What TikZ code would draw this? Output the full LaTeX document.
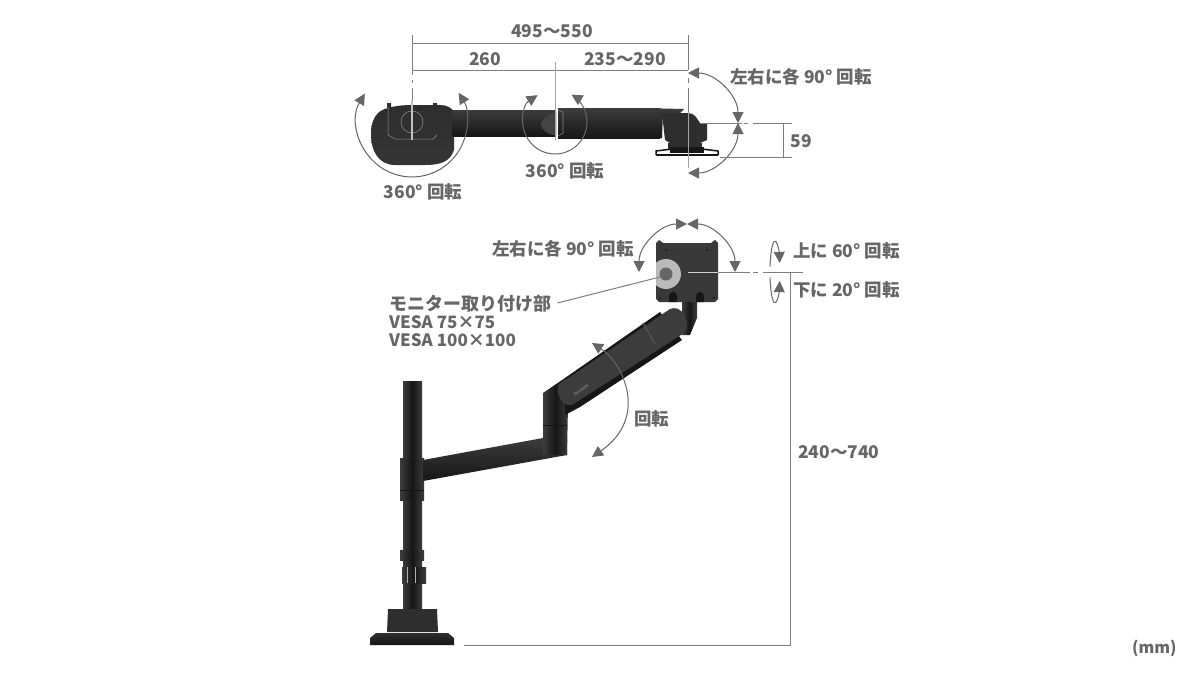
\documentclass[tikz,border=0pt]{standalone}
\usepackage{fontspec}
\setmainfont{Noto Sans CJK JP}
\usetikzlibrary{arrows.meta}
\definecolor{lblgray}{HTML}{666666}
\definecolor{armdark}{HTML}{2E2E2E}
\definecolor{armblack}{HTML}{161616}
\definecolor{armlight}{HTML}{3C3C3C}
\tikzset{
  lbl/.style={text=lblgray,font=\fontsize{17.5}{18}\selectfont\bfseries,inner sep=0pt},
  lblleft/.style={lbl,anchor=west,align=left},
  lblvesa/.style={lblleft,font=\fontsize{17}{18}\selectfont\bfseries},
  dimline/.style={draw=lblgray!85,line width=1pt},
  rotarc/.style={draw=lblgray,line width=1pt},
  rothead/.style={{Triangle[length=11pt,width=11pt]}-{Triangle[length=11pt,width=11pt]}},
  endhead/.style={-{Triangle[length=11pt,width=11pt]}},
  cyl/.style={left color=armlight,right color=armlight,middle color=armblack,draw=none},
  bar/.style={top color=armlight,bottom color=armblack,draw=none},
  solid dark/.style={fill=armdark,draw=none}
}
\begin{document}
\begin{tikzpicture}[x=1pt,y=-1pt]
  \useasboundingbox (0,0) rectangle (1200,675);
  \fill[white] (0,0) rectangle (1200,675);

  % top view of the arm
  \path[bottom color=armlight!80!armblack,top color=armdark] (378,113) .. controls (384,107) and (400,105) .. (412,105)
     -- (440,105) .. controls (447,105) and (452,108) .. (454,112) -- (454,150)
     .. controls (450,162) and (440,165) .. (425,165) -- (395,165)
     .. controls (378,165) and (371,150) .. (371,135) .. controls (371,125) and (373,118) .. (378,113) -- cycle;
  \fill[armdark] (387,103) rectangle (391,108) (433,103) rectangle (437,108);
  \path[bar] (452,110) rectangle (556,136);
  \path[bar] (558,108) rectangle (660,138);
  \path[bar] (640,108) -- (684,109) -- (680,113) -- (663,113) -- (662,138) -- (640,138) -- cycle;
  \path[solid dark] (662,113) -- (688,113) .. controls (695,113) and (697,119) .. (700,123)
     -- (707,123) -- (707,140) -- (700,143) -- (670,143) -- (665,140) -- cycle;
  \path[solid dark] (668,143) rectangle (702,150);
  \draw[armblack,line width=2pt] (656,155) -- (718,155);
  \draw[armblack,line width=1.5pt] (656,155) -- (656,151) -- (672,149) (718,155) -- (718,151) -- (702,149);
  \fill[armblack] (670,147) rectangle (704,153);
  \draw[lblgray!70,line width=.5pt] (388,107) -- (388,135) -- (395,139) -- (433,139) -- (437,135);
  \draw[lblgray!70,line width=.5pt] (412,122) circle[radius=11];
  \fill[armdark!60!lblgray] (556,113) .. controls (548,113) and (541,120) .. (541,124)
     .. controls (541,130) and (548,135) .. (556,135) -- cycle;
  \draw[lblgray!80,line width=.6pt] (558,110) -- (563,112) -- (563,133) -- (558,136);

  % side view of the arm
  \path[cyl] (403,381) rectangle (422,460);
  \path[cyl] (403,500) rectangle (422,609);
  \path[cyl] (400,458) rectangle (424,500);
  \draw[armblack,line width=.5pt] (400,490) -- (424,490);
  \path[cyl] (400,550) rectangle (424,560);
  \path[cyl] (402,567) rectangle (426,583);
  \draw[white!70!black,line width=.5pt] (407,567) -- (407,583) (415,567) -- (415,583);
  \path[solid dark] (388,609) -- (437,609) -- (438,632) -- (387,632) -- cycle;
  \path[top color=armdark,bottom color=armblack] (376,633) -- (448,633) -- (454,638) -- (454,645) -- (370,645) -- (370,638) -- cycle;
  \path[bar] (423,460) -- (543,438) -- (567,438) -- (567,455) -- (423,481) -- cycle;
  \path[cyl] (543,393) -- (565,378) -- (568,405) -- (567,455) -- (543,455) -- cycle;
  \draw[armblack,line width=1pt] (543,425) -- (567,425);
  \fill[armblack] (565,378) -- (660,312) -- (682,340) -- (580,407) -- (565,415) -- cycle;
  \path[cyl] (682,300) -- (697,300) -- (697,318) -- (690,335) -- (682,335) -- cycle;
  \fill[armlight] (558,385) -- (670,309) .. controls (680,305) and (687,316) .. (687,325)
     .. controls (687,331) and (683,334) .. (678,337) -- (572,405)
     .. controls (565,407) and (560,400) .. (558,393) -- cycle;
  \draw[lblgray!60!armdark,line width=1.5pt] (643,323) -- (655,344);
  \node[font=\fontsize{4.5}{5}\selectfont,text=lblgray!60,rotate=36,inner sep=0pt] (armlogo) at (581,390) {Ooolass};

  % monitor plate
  \fill[armdark!80!lblgray] (659,240) -- (663,243) -- (711,243) -- (715,240) -- (718,243) -- (718,299) -- (715,302)
     -- (659,302) -- (656,299) -- (656,243) -- cycle;
  \begin{scope}
    \clip (656,240) rectangle (718,302);
    \fill[lblgray!45!white] (666,274) circle[radius=15];
    \fill[lblgray] (666,274) circle[radius=6.5];
  \end{scope}
  \fill[armblack] (666,250) circle[radius=1] (707,250) circle[radius=1] (660,298) circle[radius=1] (714,298) circle[radius=1];
  \foreach \px in {673,700}{
    \fill[armblack] (\px-4,302) -- (\px-4,296) arc[start angle=180,end angle=360,radius=4] -- (\px+4,302) -- cycle;
  }

  % rotation arcs
  \draw[rotarc,rothead] (412,122) ++(211:55) arc[start angle=211,end angle=-32,radius=55];
  \draw[rotarc,rothead] (555,122) ++(237:32) arc[start angle=237,end angle=-59,radius=32];
  \draw[rotarc,rothead] (688,123) ++(-90:50) arc[start angle=-90,end angle=0,radius=50];
  \draw[rotarc,rothead] (688,123) ++(90:50) arc[start angle=90,end angle=0,radius=50];
  \draw[rotarc,rothead] (687,272) ++(180:48) arc[start angle=180,end angle=270,radius=48];
  \draw[rotarc,rothead] (687,272) ++(0:48) arc[start angle=0,end angle=-90,radius=48];
  \draw[rotarc,endhead] (775,272) ++(190:5 and 31) arc[start angle=190,end angle=343,x radius=5,y radius=31];
  \draw[rotarc,endhead] (775,272) ++(170:5 and 31) arc[start angle=170,end angle=17,x radius=5,y radius=31];

  % dimension lines
  \coordinate (dimlefttop) at (412,35);
  \coordinate (dimleftbot) at (412,75);
  \coordinate (dimrighttop) at (688,35);
  \coordinate (dimrightbot) at (688,70);
  \coordinate (dimmidtop) at (555,62);
  \coordinate (dimmidbot) at (555,140);
  \draw[dimline] (dimlefttop) -- (dimleftbot);
  \draw[dimline] (dimrighttop) -- (dimrightbot);
  \draw[dimline] (412,43) -- (688,43);
  \draw[dimline] (412,70) -- (688,70);
  \draw[lblgray!60,line width=1pt] (dimmidtop) -- (dimmidbot);
  \draw[dimline] (412,80) -- (412,83) (412,88) -- (412,100);
  \draw[lblgray!40,line width=1.5pt] (412,100) -- (412,140);
  \draw[dimline] (688,78) -- (688,83) (688,88) -- (688,112);
  \draw[lblgray!60,line width=.8pt] (688,112) -- (688,168);
  \draw[dimline] (700,123) -- (742,123) (744,123) -- (748,123) (753,123) -- (792,123);
  \draw[dimline] (720,157) -- (792,157);
  \draw[dimline] (783,123) -- (783,157);
  \draw[lblgray!30,line width=1pt] (688,272) -- (718,272);
  \draw[dimline] (718,272) -- (750,272) (753,272) -- (758,272) (763,272) -- (803,272);
  \draw[dimline] (790,272) -- (790,645) -- (464,645);

  % labels
  \node[lbl] (lbloverall) at (552,31) {495～550};
  \node[lbl] (lblbase) at (485,59) {260};
  \node[lbl] (lblreach) at (625,59) {235～290};
  \node[lbl] (lbldepth) at (801,141) {59};
  \node[lblleft] (lbltopturn) at (730,77) {左右に各 90° 回転};
  \node[lbl] (lblbaseturn) at (423,192) {360° 回転};
  \node[lbl] (lblmidturn) at (565,171) {360° 回転};
  \node[lblleft] (lblsideturn) at (492,249) {左右に各 90° 回転};
  \node[lblleft] (lblup) at (793,251) {上に 60° 回転};
  \node[lblleft] (lbldown) at (793,290) {下に 20° 回転};
  \node[lblleft,font=\fontsize{18}{18}\selectfont\bfseries] (lblmount) at (389,304) {モニター取り付け部};
  \node[lblvesa] (lblvesaa) at (389,322) {VESA 75×75};
  \node[lblvesa] (lblvesab) at (389,340) {VESA 100×100};
  \node[lblleft] (lblarm) at (634,419) {回転};
  \node[lblleft] (lblheight) at (798,452) {240～740};
  \node[lblleft,font=\fontsize{16}{16}\selectfont\bfseries] (lblunit) at (1132,648) {(mm)};

  % leader and arm arc
  \coordinate (ringcentre) at (660,277);
  \draw[dimline] (lblmount.east) ++(6,-1) -- (ringcentre);
  \draw[rotarc,rothead] (592,343) .. controls (622,362) and (650,417) .. (592,457);
\end{tikzpicture}
\end{document}
